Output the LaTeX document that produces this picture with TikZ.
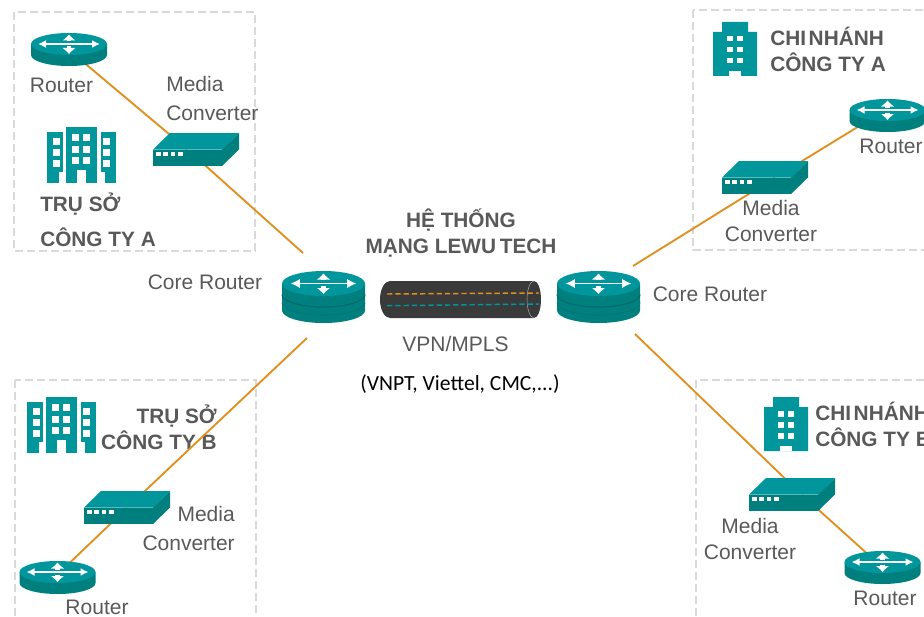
\documentclass[tikz,border=0pt]{standalone}
\usepackage{fontspec}
\setmainfont{Liberation Sans}
\newfontfamily\carlitofont{Carlito}
\usepackage{tikz}
\usetikzlibrary{arrows.meta, calc, positioning}
\definecolor{tealtop}{HTML}{00969C}
\definecolor{tealside}{HTML}{007F7F}
\definecolor{tealdark}{HTML}{006B6C}
\definecolor{linkorange}{HTML}{E0901E}
\definecolor{boxgrey}{HTML}{D9D9D9}
\definecolor{textgrey}{HTML}{595959}
\definecolor{tubedark}{HTML}{3A3A3A}
\tikzset{
	x=0.75pt, y=-0.75pt,
	area/.style = {draw=boxgrey, line width=1.5pt, dash pattern=on 6pt off 3pt},
	link/.style = {draw=linkorange, line width=1.4pt},
	devspot/.style = {inner sep=0pt, minimum size=1pt},
	lbl/.style = {text=textgrey, inner sep=0pt, font=\fontsize{15.75}{19.5}\selectfont},
	lbltwo/.style = {lbl, font=\fontsize{15.75}{20.5}\selectfont},
	title/.style = {text=textgrey, inner sep=0pt, font=\fontsize{15.6}{19.5}\selectfont\bfseries},
	bigtip/.style = {white, line width=3.4pt, -{Latex[length=4.5pt,width=10.5pt]}},
	pics/router/.style = {code={
		\fill[tealside] (-38,-5.5) -- (-38,5.5) arc[start angle=180, end angle=0, x radius=38, y radius=11] -- (38,-5.5) -- cycle;
		\fill[tealtop] (0,-5.5) ellipse [x radius=38, y radius=11];
		\draw[white, line width=1.3pt, {Latex[length=6pt,width=6pt]}-{Latex[length=6pt,width=6pt]}] (-31,-5.5) -- (31,-5.5);
		\draw[bigtip] (0,-8) -- (0,-15);
		\draw[bigtip] (0,-3) -- (0,4.5);
	}},
	pics/corerouter/.style = {code={
		\fill[tealside] (-41.5,-13.5) -- (-41.5,13.5) arc[start angle=180, end angle=0, x radius=41.5, y radius=12.5] -- (41.5,-13.5) -- cycle;
		\draw[tealdark, line width=0.9pt] (-41.5,-2.5) arc[start angle=180, end angle=0, x radius=41.5, y radius=12.5];
		\draw[tealdark!45!tealside, line width=0.6pt] (-41.5,5.5) arc[start angle=180, end angle=0, x radius=41.5, y radius=12.5];
		\fill[tealtop] (0,-13.5) ellipse [x radius=41.5, y radius=12.5];
		\draw[white, line width=1.4pt, {Latex[length=7pt,width=7pt]}-{Latex[length=7pt,width=7pt]}] (-33,-13.5) -- (33,-13.5);
		\draw[bigtip] (0,-17) -- (0,-23.5);
		\draw[bigtip] (0,-11) -- (0,-3);
	}},
	pics/converter/.style = {code={
		\fill[tealside] (-43,0) rectangle (26,16.5);
		\fill[tealtop] (-43,0) -- (-26,-16.5) -- (43,-16.5) -- (26,0) -- cycle;
		\fill[tealside] (26,0) -- (43,-16.5) -- (43,0) -- (26,16.5) -- cycle;
		\foreach \k in {0,1,2,3}
			\fill[white] ({-40+7.4*\k},2.5) rectangle ++(4.5,4);
	}},
	pics/tower/.style = {code={
		\fill[tealtop] (0,5) rectangle (16,56);
		\fill[tealtop] (18.5,0) rectangle (50,56);
		\fill[tealtop] (53.5,5) rectangle (69,56);
		\foreach \r in {11,22,33} {
			\fill[white] (6,\r) rectangle ++(6.5,7);
			\fill[white] (56,\r) rectangle ++(7,7);
		}
		\foreach \r in {7,19,30} {
			\fill[white] (25,\r) rectangle ++(7,7);
			\fill[white] (36,\r) rectangle ++(7,7);
		}
		\fill[white] (30,43) rectangle (39,56);
		\fill[white] (12,45) rectangle (16,56);
		\fill[white] (53.5,45) rectangle (58,56);
	}},
	pics/office/.style = {code={
		\fill[tealtop] (9,0) -- (35,0) -- (35,10) -- (44,10) -- (44,54) -- (0,54) -- (0,10) -- (9,10) -- cycle;
		\foreach \r in {14,25,36} {
			\fill[white] (14,\r) rectangle ++(6,5.5);
			\fill[white] (24,\r) rectangle ++(6,5.5);
		}
		\fill[white] (16,49) rectangle (28,54);
	}}
}

\begin{document}
\begin{tikzpicture}
		\clip (0,0) rectangle (924,617);
		\fill[white] (0,0) rectangle (924,617);
		
		% Dashed areas
		\draw[area] (14,12) rectangle (255,251);
		\draw[area] (693,10) rectangle (940,250);
		\draw[area] (15,380) rectangle (256,640);
		\draw[area] (696,380) rectangle (940,640);
		
		% Labels
		\node[lbl] (lblRouterA) at (61.5,85) {Router};
		\node[lbltwo, align=left, anchor=west] (lblMediaA) at (166,98.5) {Media\\[1.5pt]Converter};
		\node[title, align=left, anchor=west] (lblSiteA) at (40,220) {TRỤ SỞ\\[7pt]CÔNG TY A};
		\node[lbl] (lblCoreL) at (205,282) {Core Router};
		\node[lbl] (lblCoreR) at (710,294) {Core Router};
		\node[title, align=center] (lblNet) at (461,233) {HỆ THỐNG\\MẠNG LEWU\hspace{-0.1em} TECH};
		\node[lbl] (lblVpn) at (455.5,344) {VPN/MPLS};
		\node[inner sep=0pt, font=\carlitofont\fontsize{16.2}{19}\selectfont] (lblIsp) at (460,384) {(VNPT, Viettel, CMC,...)};
		\node[title, align=left, anchor=west] (lblBranchA) at (770,49) {CHI\hspace{-0.15em} NHÁNH\\CÔNG TY A};
		\node[lbl] (lblRouterC) at (891,146) {Router};
		\node[lbl, align=center] (lblMediaC) at (771,221) {Media\\Converter};
		\node[title, align=right, anchor=east] (lblSiteB) at (217,427) {TRỤ SỞ\\CÔNG TY B};
		\node[lbltwo, align=right, anchor=east] (lblMediaB) at (235,528.5) {Media\\[1.5pt]Converter};
		\node[lbl] (lblRouterB) at (97,607) {Router};
		\node[title, align=left, anchor=west] (lblBranchB) at (815,424) {CHI\hspace{-0.15em} NHÁNH\\CÔNG TY B};
		\node[lbl, align=center] (lblMediaD) at (750,538.5) {Media\\Converter};
		\node[lbl] (lblRouterD) at (885,598) {Router};
		
		% Spots for the links
		\node[devspot] (ra) at (69,50) {};
		\node[devspot] (ca) at (188,150) {};
		\coordinate (ga) at (303,253);
		\node[devspot] (rb) at (57,575) {};
		\node[devspot] (cb) at (128,507) {};
		\coordinate (gb) at (307,338);
		\node[devspot] (rc) at (887,109) {};
		\node[devspot] (cc) at (776,177) {};
		\coordinate (gc) at (633,266);
		\node[devspot] (rd) at (882,567) {};
		\node[devspot] (cd) at (801,494) {};
		\coordinate (gd) at (635,334);
		
		% Links
		\draw[link] (ra) -- (ca);
		\draw[link] (ca) -- (ga);
		\draw[link] (rb) -- (cb);
		\draw[link] (cb) -- (gb);
		\draw[link] (rc) -- (cc);
		\draw[link] (cc) -- (gc);
		\draw[link] (rd) -- (cd);
		\draw[link] (cd) -- (gd);
		
		% Devices
		\pic at (69,49.5) {router};
		\pic at (57.5,577.5) {router};
		\pic at (887.5,115.5) {router};
		\pic at (882.5,567.5) {router};
		\pic at (196,149.5) {converter};
		\pic at (127,507.5) {converter};
		\pic at (765,177.5) {converter};
		\pic at (792,494.5) {converter};
		\pic at (323.5,297) {corerouter};
		\pic at (598.5,297) {corerouter};
		\pic at (47,127) {tower};
		\pic at (27,397) {tower};
		\pic at (713,22) {office};
		\pic at (764,397) {office};
		
		% Tunnel
		\fill[tubedark] (534,281) -- (390,281) arc[start angle=-90, end angle=-270, x radius=10, y radius=18.5] -- (534,318) arc[start angle=90, end angle=-90, x radius=7, y radius=18.5];
		\draw[gray!70, line width=0.4pt] (534,281) arc[start angle=-90, end angle=-270, x radius=7, y radius=18.5];
		\draw[linkorange, line width=1.1pt, dash pattern=on 4pt off 2.2pt] (387,294) -- (539,293);
		\draw[tealtop, line width=1.1pt, dash pattern=on 4pt off 2.2pt] (387,305.7) -- (539,304);
		\end{tikzpicture}
\end{document}
